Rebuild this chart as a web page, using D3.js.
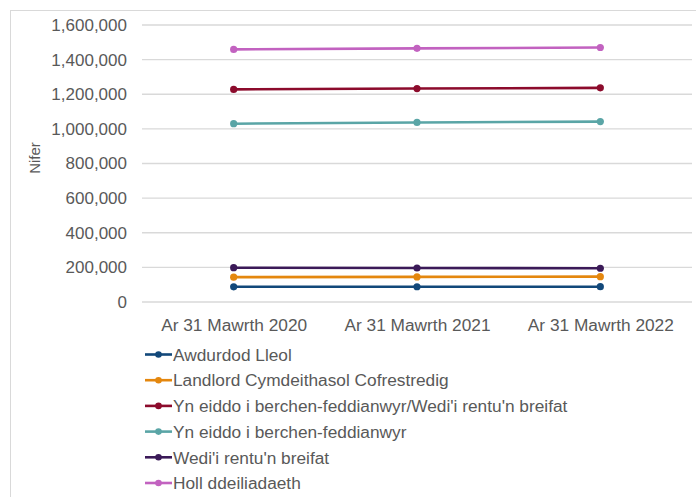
<!DOCTYPE html>
<html>
<head>
<meta charset="utf-8">
<script src="https://cdn.jsdelivr.net/npm/d3@7"></script>
<style>
  body { margin: 0; background: #fff; }
  text { font-family: "Liberation Sans", Arial, sans-serif; fill: #595959; }
</style>
</head>
<body>
<div id="chart"></div>
<script>
// categories on the x axis
let categories = ["Ar 31 Mawrth 2020", "Ar 31 Mawrth 2021", "Ar 31 Mawrth 2022"];

// series names (legend order)
let seriesNames = [
  "Awdurdod Lleol",
  "Landlord Cymdeithasol Cofrestredig",
  "Yn eiddo i berchen-feddianwyr/Wedi'i rentu'n breifat",
  "Yn eiddo i berchen-feddianwyr",
  "Wedi'i rentu'n breifat",
  "Holl ddeiliadaeth"
];

// values per series
let awdurdodLleol = [87900, 88100, 88400];
let landlordCymdeithasol = [143500, 145000, 146300];
let perchenRentu = [1228000, 1233000, 1237000];
let perchenFeddianwyr = [1030000, 1037000, 1042000];
let rentuBreifat = [198000, 196500, 195000];
let hollDdeiliadaeth = [1459000, 1465000, 1470000];

let yTicks = [0, 200000, 400000, 600000, 800000, 1000000, 1200000, 1400000, 1600000];

let colours = ["#12487a", "#e4870e", "#8c0b2c", "#5aa5a6", "#3b1a58", "#c262c0"];

let allSeries = [awdurdodLleol, landlordCymdeithasol, perchenRentu, perchenFeddianwyr, rentuBreifat, hollDdeiliadaeth];

let svgWidth = 696;
let svgHeight = 497;
let margin = { top: 25, right: 4, bottom: 195, left: 142 };
let width = svgWidth - margin.left - margin.right;
let height = svgHeight - margin.top - margin.bottom;

let svg = d3.select("#chart")
  .append("svg")
  .attr("width", svgWidth)
  .attr("height", svgHeight);

// outer frame
svg.append("rect")
  .attr("x", 10.5)
  .attr("y", 10.5)
  .attr("width", 700)
  .attr("height", 500)
  .attr("fill", "none")
  .attr("stroke", "#d9d9d9");

let chartGroup = svg.append("g")
  .attr("transform", `translate(${margin.left}, ${margin.top})`);

let xScale = d3.scalePoint()
  .domain(categories)
  .range([0, width])
  .padding(0.5);

let yScale = d3.scaleLinear()
  .domain([0, 1600000])
  .range([height, 0]);

// gridlines
chartGroup.append("g")
  .selectAll("line")
  .data(yTicks)
  .enter()
  .append("line")
  .attr("x1", 0)
  .attr("x2", width)
  .attr("y1", d => yScale(d))
  .attr("y2", d => yScale(d))
  .attr("stroke", "#d9d9d9")
  .attr("stroke-width", 1.3);

// y axis
let yAxis = d3.axisLeft(yScale)
  .tickValues(yTicks)
  .tickFormat(d3.format(","))
  .tickSize(0)
  .tickPadding(15);

chartGroup.append("g")
  .call(yAxis)
  .call(g => g.select(".domain").remove())
  .selectAll("text")
  .attr("font-size", "17px")
  .attr("fill", "#595959")
  .style("font-family", "'Liberation Sans', Arial, sans-serif");

// x axis
let xAxis = d3.axisBottom(xScale).tickSize(0).tickPadding(17);

chartGroup.append("g")
  .attr("transform", `translate(0, ${height})`)
  .call(xAxis)
  .call(g => g.select(".domain").remove())
  .selectAll("text")
  .attr("font-size", "17.3px")
  .attr("fill", "#595959")
  .style("font-family", "'Liberation Sans', Arial, sans-serif");

// y axis title
svg.append("text")
  .attr("transform", "rotate(-90)")
  .attr("x", -158)
  .attr("y", 40)
  .attr("text-anchor", "middle")
  .attr("font-size", "15px")
  .text("Nifer");

// lines and markers
let line = d3.line()
  .x((d, i) => xScale(categories[i]))
  .y(d => yScale(d));

allSeries.forEach(function(values, s) {
  chartGroup.append("path")
    .datum(values)
    .attr("d", line)
    .attr("fill", "none")
    .attr("stroke", colours[s])
    .attr("stroke-width", 2.6);

  chartGroup.selectAll(null)
    .data(values)
    .enter()
    .append("circle")
    .attr("cx", (d, i) => xScale(categories[i]))
    .attr("cy", d => yScale(d))
    .attr("r", 3.6)
    .attr("fill", colours[s]);
});

// legend
let legend = svg.append("g")
  .attr("transform", "translate(145, 354.5)");

let legendItems = legend.selectAll("g")
  .data(seriesNames)
  .enter()
  .append("g")
  .attr("transform", (d, i) => `translate(0, ${i * 25.7})`);

legendItems.append("line")
  .attr("x1", 0)
  .attr("x2", 27)
  .attr("stroke", (d, i) => colours[i])
  .attr("stroke-width", 2.6);

legendItems.append("circle")
  .attr("cx", 13.5)
  .attr("r", 3.3)
  .attr("fill", (d, i) => colours[i]);

legendItems.append("text")
  .attr("x", 28)
  .attr("dy", "0.36em")
  .attr("font-size", "17.3px")
  .text(d => d);
</script>
</body>
</html>
